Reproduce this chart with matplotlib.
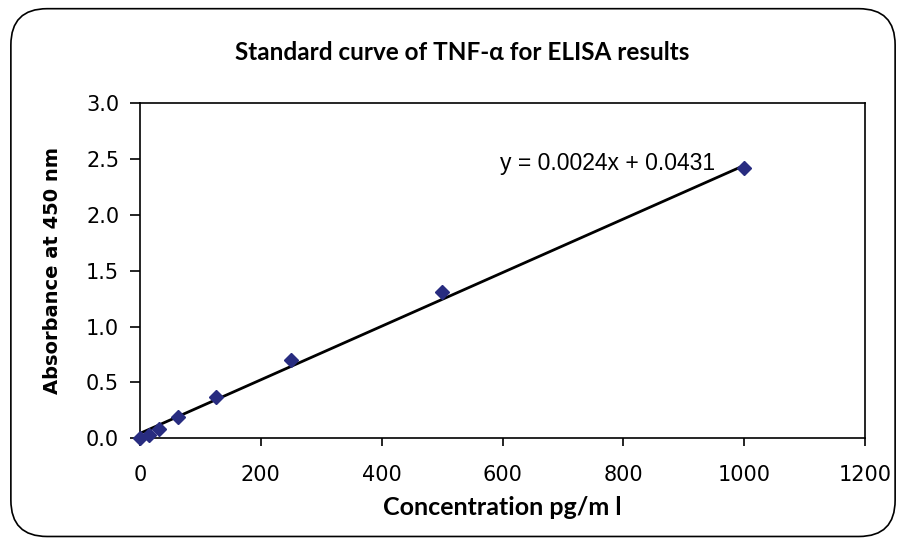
import numpy as np
import matplotlib
matplotlib.use("Agg")
import matplotlib.pyplot as plt
from matplotlib.patches import FancyBboxPatch

# 標準曲線のデータ (濃度 pg/ml, 吸光度 450 nm)
conc = [0, 15.6, 31.25, 62.5, 125, 250, 500, 1000]
absorb = [0.00, 0.03, 0.08, 0.19, 0.37, 0.70, 1.31, 2.42]
slope, intercept = 0.0024, 0.0431
xticks = [0, 200, 400, 600, 800, 1000, 1200]
yticks = [0.0, 0.5, 1.0, 1.5, 2.0, 2.5, 3.0]

fig = plt.figure(figsize=(9.06, 5.43), dpi=100)
ax = fig.add_axes([0.1545, 0.193, 0.8005, 0.617])

# 外枠 (角丸)
frame = FancyBboxPatch((0.012, 0.012), 0.976, 0.972, boxstyle="round,pad=0,rounding_size=0.04",
                       transform=fig.transFigure, fill=False, ec="black", lw=1.2,
                       mutation_aspect=906 / 543)
fig.patches.append(frame)

xfit = np.array([0, max(conc)])
ax.plot(xfit, slope * xfit + intercept, "-", color="black", lw=2.0, zorder=2)
ax.plot(conc, absorb, "D", color="#282C80", ms=7.5, mec="#282C80", zorder=3,
        clip_on=False)

ax.set_xlim(0, 1200)
ax.set_ylim(0, 3.0)
ax.set_xticks(xticks)
ax.set_yticks(yticks)
ax.set_yticklabels(["%.1f" % v for v in yticks], fontsize=15, family="DejaVu Sans")
ax.set_xticklabels([str(v) for v in xticks], fontsize=15, family="DejaVu Sans")
ax.tick_params(axis="y", direction="out", length=7, width=1.2, pad=8)
ax.tick_params(axis="x", direction="out", length=6, width=1.2, pad=13)
for s in ax.spines.values():
    s.set_linewidth(1.2)

ax.text(595, 2.46, "y = 0.0024x + 0.0431", fontsize=16.5, family="Liberation Sans",
        ha="left", va="center")

ax.set_xlabel("Concentration pg/m l", fontsize=18, family="Lato", fontweight="bold",
              labelpad=8)
ax.set_ylabel("Absorbance at 450 nm", fontsize=14, family="DejaVu Sans",
              fontweight="bold")
ax.yaxis.set_label_coords(-0.108, 0.5)
fig.text(0.51, 0.904, "Standard curve of TNF-α for ELISA results", fontsize=17.5,
         family="Lato", fontweight="bold", ha="center", va="center")

fig.savefig("out.png", dpi=100)
